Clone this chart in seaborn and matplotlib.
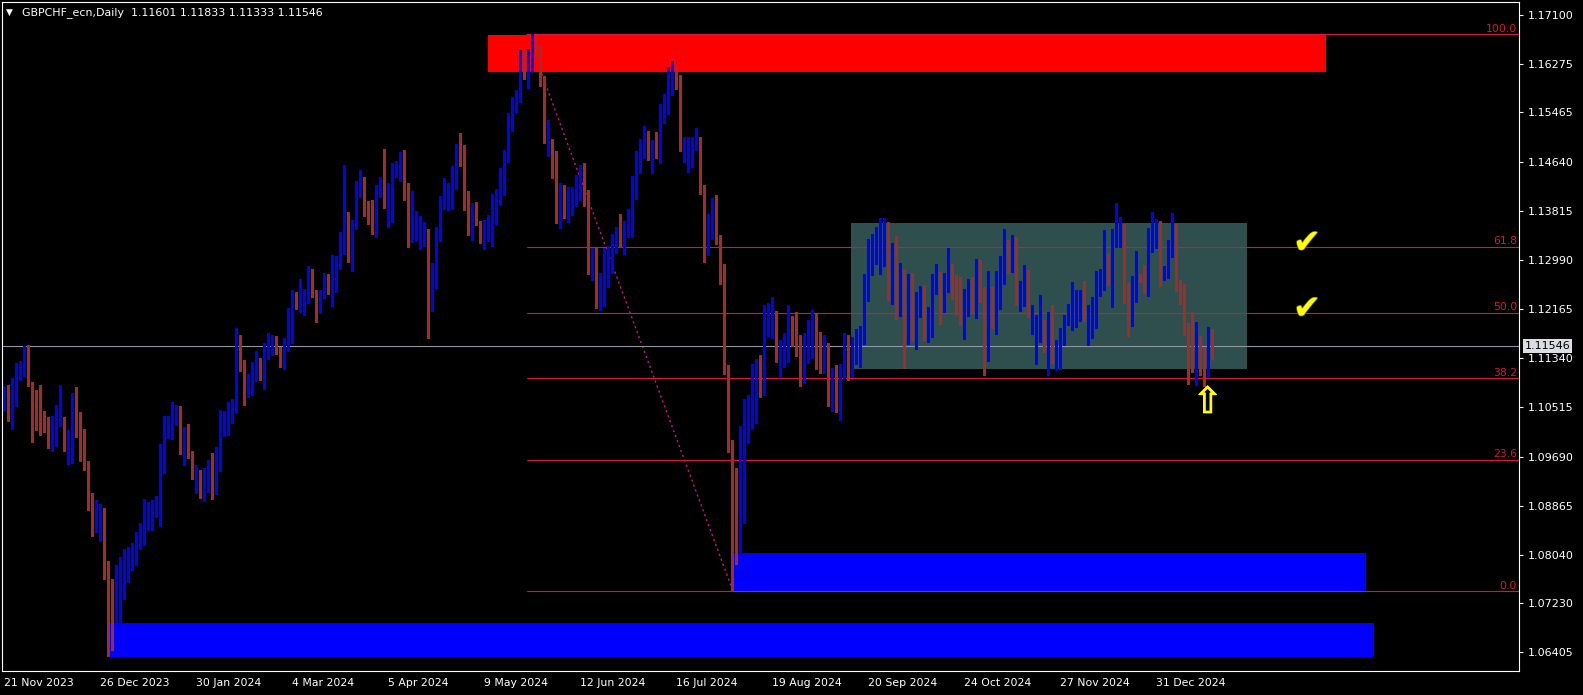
import numpy as np
import pandas as pd
import matplotlib
matplotlib.use("Agg")
import matplotlib.pyplot as plt
import matplotlib.patheffects as pe
from matplotlib.patches import Rectangle
import seaborn as sns

# GBPCHF daily candles (bar 0 = 21 Nov 2023)
opens = [
    1.1064, 1.1078, 1.1029, 1.1073, 1.1103, 1.1113, 1.1146, 1.1091, 1.1047, 1.1032,
    1.1022, 1.1007, 1.0983, 1.1019, 1.1024, 1.1024, 1.0994, 1.0993, 1.1059, 1.1010,
    1.0967, 1.0960, 1.0901, 1.0862, 1.0828, 1.0844, 1.0763, 1.0757, 1.0691, 1.0699,
    1.0733, 1.0780, 1.0780, 1.0806, 1.0831, 1.0832, 1.0855, 1.0848, 1.0884, 1.0853,
    1.0948, 1.1011, 1.0999, 1.1036, 1.1037, 1.0976, 1.1012, 1.0977, 1.0941, 1.0938,
    1.0926, 1.0925, 1.0932, 1.0908, 1.0952, 1.1022, 1.1008, 1.1032, 1.1042, 1.1162,
    1.1128, 1.1083, 1.1079, 1.1098, 1.1121, 1.1109, 1.1134, 1.1140, 1.1155, 1.1143,
    1.1125, 1.1154, 1.1173, 1.1227, 1.1213, 1.1227, 1.1239, 1.1249, 1.1230, 1.1211,
    1.1243, 1.1267, 1.1228, 1.1291, 1.1293, 1.1326, 1.1362, 1.1288, 1.1360, 1.1410,
    1.1406, 1.1373, 1.1368, 1.1341, 1.1413, 1.1422, 1.1380, 1.1373, 1.1446, 1.1442,
    1.1445, 1.1412, 1.1330, 1.1335, 1.1339, 1.1333, 1.1341, 1.1239, 1.1261, 1.1341,
    1.1387, 1.1408, 1.1386, 1.1419, 1.1475, 1.1465, 1.1390, 1.1333, 1.1368, 1.1349,
    1.1332, 1.1332, 1.1324, 1.1398, 1.1396, 1.1435, 1.1469, 1.1524, 1.1549, 1.1573,
    1.1649, 1.1593, 1.1622, 1.1666, 1.1650, 1.1595, 1.1491, 1.1493, 1.1461, 1.1359,
    1.1411, 1.1363, 1.1394, 1.1399, 1.1431, 1.1431, 1.1381, 1.1282, 1.1292, 1.1234,
    1.1236, 1.1280, 1.1278, 1.1313, 1.1336, 1.1309, 1.1348, 1.1352, 1.1409, 1.1446,
    1.1474, 1.1480, 1.1450, 1.1489, 1.1462, 1.1548, 1.1561, 1.1577, 1.1611, 1.1578,
    1.1465, 1.1447, 1.1457, 1.1495, 1.1499, 1.1415, 1.1327, 1.1341, 1.1392, 1.1320,
    1.1275, 1.1098, 1.0968, 1.0875, 1.0800, 1.0917, 1.1030, 1.1016, 1.1026, 1.1119,
    1.1096, 1.1184, 1.1183, 1.1197, 1.1128, 1.1125, 1.1128, 1.1178, 1.1172, 1.1151,
    1.1095, 1.1139, 1.1136, 1.1175, 1.1131, 1.1120, 1.1106, 1.1063, 1.1093, 1.1061,
    1.1102, 1.1153, 1.1103, 1.1143, 1.1120, 1.1158, 1.1260, 1.1298, 1.1293, 1.1282,
    1.1299, 1.1331, 1.1226, 1.1282, 1.1213, 1.1257, 1.1170, 1.1215, 1.1161, 1.1207,
    1.1235, 1.1163, 1.1170, 1.1247, 1.1252, 1.1237, 1.1245, 1.1264, 1.1247, 1.1227,
    1.1175, 1.1208, 1.1254, 1.1203, 1.1274, 1.1219, 1.1136, 1.1247, 1.1176, 1.1244,
    1.1260, 1.1311, 1.1290, 1.1314, 1.1217, 1.1224, 1.1245, 1.1185, 1.1173, 1.1177,
    1.1177, 1.1146, 1.1197, 1.1116, 1.1135, 1.1158, 1.1192, 1.1183, 1.1198, 1.1202,
    1.1232, 1.1187, 1.1170, 1.1185, 1.1257, 1.1259, 1.1292, 1.1222, 1.1322, 1.1326,
    1.1314, 1.1227, 1.1198, 1.1230, 1.1272, 1.1254, 1.1239, 1.1314, 1.1322, 1.1329,
    1.1267, 1.1291, 1.1306, 1.1343, 1.1242, 1.1219, 1.1173, 1.1170, 1.1128, 1.1160,
    1.1126, 1.1105, 1.11601,
]
highs = [
    1.1088, 1.1089, 1.1100, 1.1126, 1.1130, 1.1154, 1.1156, 1.1094, 1.1081, 1.1089,
    1.1046, 1.1035, 1.1037, 1.1056, 1.1089, 1.1035, 1.1014, 1.1076, 1.1085, 1.1043,
    1.1015, 1.0962, 1.0907, 1.0896, 1.0890, 1.0882, 1.0794, 1.0763, 1.0787, 1.0801,
    1.0814, 1.0818, 1.0824, 1.0842, 1.0857, 1.0898, 1.0893, 1.0896, 1.0903, 1.0990,
    1.1037, 1.1037, 1.1061, 1.1055, 1.1053, 1.1019, 1.1024, 1.0979, 1.0955, 1.0947,
    1.0949, 1.0963, 1.0975, 1.0985, 1.1047, 1.1045, 1.1060, 1.1065, 1.1185, 1.1173,
    1.1131, 1.1108, 1.1128, 1.1146, 1.1134, 1.1159, 1.1176, 1.1173, 1.1172, 1.1152,
    1.1168, 1.1219, 1.1249, 1.1245, 1.1267, 1.1250, 1.1289, 1.1284, 1.1249, 1.1249,
    1.1277, 1.1276, 1.1307, 1.1306, 1.1346, 1.1458, 1.1380, 1.1366, 1.1431, 1.1450,
    1.1438, 1.1398, 1.1400, 1.1425, 1.1438, 1.1485, 1.1428, 1.1462, 1.1465, 1.1480,
    1.1484, 1.1428, 1.1414, 1.1381, 1.1373, 1.1362, 1.1351, 1.1294, 1.1355, 1.1406,
    1.1437, 1.1428, 1.1457, 1.1494, 1.1512, 1.1492, 1.1415, 1.1395, 1.1396, 1.1365,
    1.1366, 1.1375, 1.1409, 1.1418, 1.1453, 1.1484, 1.1546, 1.1573, 1.1584, 1.1651,
    1.1653, 1.1653, 1.1678, 1.1673, 1.1660, 1.1607, 1.1533, 1.1502, 1.1481, 1.1428,
    1.1425, 1.1422, 1.1421, 1.1442, 1.1458, 1.1462, 1.1417, 1.1319, 1.1319, 1.1277,
    1.1319, 1.1322, 1.1343, 1.1355, 1.1376, 1.1365, 1.1385, 1.1440, 1.1481, 1.1502,
    1.1524, 1.1515, 1.1500, 1.1513, 1.1561, 1.1578, 1.1623, 1.1632, 1.1626, 1.1610,
    1.1505, 1.1506, 1.1506, 1.1521, 1.1505, 1.1424, 1.1376, 1.1403, 1.1408, 1.1340,
    1.1292, 1.1123, 1.0997, 1.0950, 1.1021, 1.1065, 1.1073, 1.1125, 1.1132, 1.1139,
    1.1223, 1.1227, 1.1237, 1.1213, 1.1164, 1.1176, 1.1224, 1.1205, 1.1212, 1.1173,
    1.1176, 1.1198, 1.1215, 1.1208, 1.1178, 1.1173, 1.1159, 1.1117, 1.1123, 1.1125,
    1.1176, 1.1173, 1.1170, 1.1183, 1.1188, 1.1276, 1.1334, 1.1343, 1.1354, 1.1369,
    1.1369, 1.1363, 1.1328, 1.1339, 1.1294, 1.1282, 1.1276, 1.1277, 1.1245, 1.1255,
    1.1257, 1.1220, 1.1276, 1.1292, 1.1279, 1.1277, 1.1319, 1.1292, 1.1274, 1.1271,
    1.1250, 1.1267, 1.1270, 1.1301, 1.1299, 1.1253, 1.1281, 1.1254, 1.1281, 1.1306,
    1.1351, 1.1333, 1.1341, 1.1338, 1.1264, 1.1291, 1.1282, 1.1224, 1.1207, 1.1240,
    1.1198, 1.1212, 1.1224, 1.1165, 1.1185, 1.1207, 1.1225, 1.1262, 1.1249, 1.1249,
    1.1264, 1.1224, 1.1237, 1.1281, 1.1284, 1.1349, 1.1309, 1.1351, 1.1395, 1.1371,
    1.1359, 1.1260, 1.1272, 1.1314, 1.1276, 1.1291, 1.1353, 1.1380, 1.1368, 1.1364,
    1.1289, 1.1333, 1.1378, 1.1359, 1.1265, 1.1259, 1.1193, 1.1212, 1.1195, 1.1172,
    1.1151, 1.1187, 1.11833,
]
lows = [
    1.1047, 1.1029, 1.1016, 1.1054, 1.1098, 1.1104, 1.1088, 1.0994, 1.1014, 1.1005,
    1.1011, 1.0983, 1.0979, 1.0986, 1.1021, 1.0978, 1.0956, 1.0958, 1.1001, 1.0962,
    1.0947, 1.0880, 1.0835, 1.0843, 1.0828, 1.0763, 1.0634, 1.0645, 1.0678, 1.0691,
    1.0730, 1.0759, 1.0778, 1.0787, 1.0813, 1.0821, 1.0846, 1.0845, 1.0868, 1.0853,
    1.0941, 1.1000, 1.0998, 1.1022, 1.0974, 1.0955, 1.0966, 1.0932, 1.0908, 1.0899,
    1.0894, 1.0909, 1.0897, 1.0906, 1.0944, 1.1004, 1.1005, 1.1026, 1.1042, 1.1113,
    1.1056, 1.1069, 1.1073, 1.1095, 1.1097, 1.1082, 1.1133, 1.1139, 1.1141, 1.1120,
    1.1116, 1.1146, 1.1159, 1.1216, 1.1212, 1.1206, 1.1226, 1.1236, 1.1195, 1.1210,
    1.1235, 1.1242, 1.1221, 1.1245, 1.1284, 1.1309, 1.1295, 1.1281, 1.1351, 1.1405,
    1.1372, 1.1360, 1.1342, 1.1338, 1.1405, 1.1386, 1.1355, 1.1363, 1.1438, 1.1431,
    1.1399, 1.1320, 1.1329, 1.1330, 1.1317, 1.1323, 1.1168, 1.1213, 1.1252, 1.1330,
    1.1385, 1.1382, 1.1385, 1.1418, 1.1457, 1.1382, 1.1341, 1.1332, 1.1357, 1.1327,
    1.1318, 1.1331, 1.1323, 1.1360, 1.1391, 1.1408, 1.1464, 1.1516, 1.1547, 1.1564,
    1.1603, 1.1587, 1.1615, 1.1640, 1.1590, 1.1496, 1.1474, 1.1437, 1.1361, 1.1352,
    1.1369, 1.1362, 1.1374, 1.1390, 1.1400, 1.1389, 1.1275, 1.1265, 1.1218, 1.1215,
    1.1221, 1.1254, 1.1277, 1.1311, 1.1320, 1.1309, 1.1338, 1.1338, 1.1401, 1.1444,
    1.1470, 1.1467, 1.1444, 1.1470, 1.1461, 1.1528, 1.1544, 1.1576, 1.1585, 1.1481,
    1.1463, 1.1446, 1.1455, 1.1483, 1.1409, 1.1295, 1.1308, 1.1334, 1.1325, 1.1258,
    1.1107, 1.0976, 1.0743, 1.0788, 1.0785, 1.0857, 1.0992, 1.1015, 1.1025, 1.1069,
    1.1073, 1.1172, 1.1168, 1.1128, 1.1105, 1.1119, 1.1127, 1.1154, 1.1138, 1.1088,
    1.1093, 1.1126, 1.1134, 1.1116, 1.1110, 1.1109, 1.1053, 1.1045, 1.1044, 1.1031,
    1.1101, 1.1097, 1.1102, 1.1125, 1.1119, 1.1158, 1.1230, 1.1274, 1.1292, 1.1276,
    1.1289, 1.1232, 1.1225, 1.1200, 1.1205, 1.1118, 1.1158, 1.1165, 1.1150, 1.1203,
    1.1165, 1.1161, 1.1170, 1.1242, 1.1192, 1.1212, 1.1245, 1.1234, 1.1207, 1.1190,
    1.1167, 1.1205, 1.1211, 1.1202, 1.1229, 1.1106, 1.1130, 1.1185, 1.1175, 1.1217,
    1.1259, 1.1277, 1.1279, 1.1224, 1.1213, 1.1222, 1.1204, 1.1175, 1.1125, 1.1161,
    1.1145, 1.1106, 1.1126, 1.1115, 1.1116, 1.1156, 1.1190, 1.1182, 1.1187, 1.1197,
    1.1197, 1.1156, 1.1168, 1.1185, 1.1239, 1.1249, 1.1257, 1.1220, 1.1321, 1.1321,
    1.1227, 1.1172, 1.1188, 1.1229, 1.1262, 1.1244, 1.1239, 1.1312, 1.1319, 1.1255,
    1.1265, 1.1269, 1.1304, 1.1247, 1.1225, 1.1173, 1.1091, 1.1111, 1.1089, 1.1106,
    1.1088, 1.1104, 1.11333,
]
closes = [
    1.1080, 1.1041, 1.1079, 1.1102, 1.1116, 1.1146, 1.1093, 1.1046, 1.1040, 1.1023,
    1.1019, 1.0986, 1.1021, 1.1037, 1.1028, 1.0996, 1.0999, 1.1074, 1.1026, 1.0966,
    1.0958, 1.0897, 1.0863, 1.0866, 1.0861, 1.0780, 1.0756, 1.0709, 1.0726, 1.0754,
    1.0782, 1.0809, 1.0810, 1.0831, 1.0841, 1.0863, 1.0871, 1.0888, 1.0888, 1.0957,
    1.1027, 1.1025, 1.1044, 1.1041, 1.0979, 1.1018, 1.0969, 1.0944, 1.0944, 1.0927,
    1.0930, 1.0945, 1.0909, 1.0955, 1.1043, 1.1024, 1.1049, 1.1058, 1.1169, 1.1127,
    1.1084, 1.1101, 1.1113, 1.1131, 1.1113, 1.1143, 1.1165, 1.1162, 1.1143, 1.1125,
    1.1165, 1.1173, 1.1228, 1.1221, 1.1229, 1.1240, 1.1284, 1.1239, 1.1221, 1.1246,
    1.1271, 1.1248, 1.1299, 1.1296, 1.1338, 1.1362, 1.1303, 1.1365, 1.1415, 1.1423,
    1.1379, 1.1366, 1.1346, 1.1419, 1.1423, 1.1393, 1.1398, 1.1457, 1.1453, 1.1446,
    1.1420, 1.1380, 1.1344, 1.1344, 1.1340, 1.1344, 1.1257, 1.1262, 1.1351, 1.1405,
    1.1414, 1.1423, 1.1437, 1.1485, 1.1469, 1.1410, 1.1351, 1.1381, 1.1359, 1.1346,
    1.1344, 1.1351, 1.1405, 1.1412, 1.1443, 1.1480, 1.1544, 1.1567, 1.1576, 1.1643,
    1.1607, 1.1647, 1.1664, 1.1652, 1.1594, 1.1499, 1.1496, 1.1470, 1.1365, 1.1424,
    1.1372, 1.1405, 1.1414, 1.1436, 1.1446, 1.1405, 1.1290, 1.1301, 1.1234, 1.1241,
    1.1281, 1.1302, 1.1312, 1.1349, 1.1324, 1.1360, 1.1361, 1.1418, 1.1465, 1.1484,
    1.1481, 1.1476, 1.1493, 1.1477, 1.1557, 1.1574, 1.1617, 1.1613, 1.1591, 1.1489,
    1.1488, 1.1477, 1.1505, 1.1505, 1.1422, 1.1328, 1.1366, 1.1398, 1.1328, 1.1286,
    1.1119, 1.0982, 1.0865, 1.0803, 1.0935, 1.1050, 1.1038, 1.1045, 1.1124, 1.1094,
    1.1214, 1.1193, 1.1208, 1.1130, 1.1145, 1.1152, 1.1198, 1.1169, 1.1158, 1.1108,
    1.1155, 1.1156, 1.1188, 1.1150, 1.1125, 1.1123, 1.1066, 1.1103, 1.1076, 1.1116,
    1.1170, 1.1139, 1.1163, 1.1148, 1.1180, 1.1260, 1.1320, 1.1311, 1.1309, 1.1329,
    1.1351, 1.1236, 1.1309, 1.1246, 1.1272, 1.1183, 1.1252, 1.1167, 1.1232, 1.1244,
    1.1172, 1.1198, 1.1262, 1.1262, 1.1240, 1.1265, 1.1282, 1.1245, 1.1234, 1.1192,
    1.1234, 1.1234, 1.1213, 1.1282, 1.1232, 1.1136, 1.1239, 1.1188, 1.1254, 1.1274,
    1.1328, 1.1307, 1.1326, 1.1225, 1.1247, 1.1272, 1.1205, 1.1192, 1.1178, 1.1182,
    1.1158, 1.1203, 1.1128, 1.1136, 1.1173, 1.1198, 1.1208, 1.1215, 1.1232, 1.1230,
    1.1203, 1.1190, 1.1202, 1.1259, 1.1267, 1.1304, 1.1259, 1.1334, 1.1344, 1.1329,
    1.1229, 1.1222, 1.1257, 1.1269, 1.1267, 1.1245, 1.1329, 1.1339, 1.1353, 1.1286,
    1.1277, 1.1314, 1.1343, 1.1249, 1.1227, 1.1175, 1.1167, 1.1131, 1.1158, 1.1131,
    1.1123, 1.1160, 1.11546,
]

symbol = "GBPCHF_ecn,Daily"
date_labels = ["21 Nov 2023", "26 Dec 2023", "30 Jan 2024", "4 Mar 2024", "5 Apr 2024",
               "9 May 2024", "12 Jun 2024", "16 Jul 2024", "19 Aug 2024", "20 Sep 2024",
               "24 Oct 2024", "27 Nov 2024", "31 Dec 2024"]
bars_per_label = 24
price_ticks = [1.17100, 1.16275, 1.15465, 1.14640, 1.13815, 1.12990, 1.12165,
               1.11340, 1.10515, 1.09690, 1.08865, 1.08040, 1.07230, 1.06405]

# fibonacci retracement drawn from the May high to the July low
fib_high, fib_low = 1.1678, 1.0743
fib_bars = [130.75, 182.25]
fib_ratios = [0.0, 0.236, 0.382, 0.5, 0.618, 1.0]
fib_names = ["0.0", "23.6", "38.2", "50.0", "61.8", "100.0"]

# zones: (first bar, last bar, bottom price, top price)
zone_bars = [(121.0, 330.5), (182.25, 340.5), (25.75, 342.5), (211.75, 310.75)]
zone_prices = [(1.16143, 1.16764), (1.0743, 1.08063), (1.06327, 1.06902), (1.11162, 1.13612)]
zone_colors = ["#FF0000", "#0000FF", "#0000FF", "#2F4F4F"]

check_bar = 325.75
check_ratios = [0.618, 0.5]
arrow_bar, arrow_price = 300.9, 1.1059

W, H = 1583, 695
BULL, BEAR = "#0000FF", "#A52A2A"
FIB = "#DC143C"

sns.set_theme(style="dark", rc={
    "axes.facecolor": "black", "figure.facecolor": "black",
    "axes.edgecolor": "white", "axes.grid": False,
    "text.color": "white", "xtick.color": "white", "ytick.color": "white",
})
plt.rcParams["font.family"] = ["DejaVu Sans"]

df = pd.DataFrame({"open": opens, "high": highs, "low": lows, "close": closes})
df["bar"] = np.arange(len(df))
df["bull"] = df["close"] >= df["open"]
df["color"] = np.where(df["bull"], BULL, BEAR)
df["body_lo"] = df[["open", "close"]].min(axis=1)
df["body_h"] = np.maximum((df["close"] - df["open"]).abs(), 0.00012)

fig = plt.figure(figsize=(W / 100, H / 100), dpi=100)
ax = fig.add_axes([2 / W, 24 / H, 1517 / W, 669 / H])
ax.set_xlim(-0.5, 378.75)
ax.set_ylim(1.06091, 1.17318)

# zones
for (b0, b1), (p0, p1), c in zip(zone_bars, zone_prices, zone_colors):
    ax.add_patch(Rectangle((b0, p0), b1 - b0, p1 - p0, facecolor=c, edgecolor="none", zorder=1.5))

# fib trend line and levels
sns.lineplot(x=fib_bars, y=[fib_high, fib_low], ax=ax, color="#C71585", lw=1.0,
             linestyle=(0, (1.6, 2.2)), zorder=1)
xmax = ax.get_xlim()[1]
for r, name in zip(fib_ratios, fib_names):
    lvl = fib_low + r * (fib_high - fib_low)
    ax.plot([fib_bars[0], xmax], [lvl, lvl], color=FIB, lw=0.8, zorder=2)
    ax.annotate(name, xy=(1, lvl), xycoords=ax.get_yaxis_transform(), xytext=(-2, 2.5),
                textcoords="offset pixels", ha="right", va="baseline", color=FIB, fontsize=7.8)

# bid line
bid = closes[-1]
ax.axhline(bid, color="#8C96A0", lw=0.8, zorder=2)

# candles
ax.vlines(df["bar"], df["low"], df["high"], colors=df["color"], lw=0.75, zorder=3, antialiased=False)
ax.bar(df["bar"], df["body_h"], bottom=df["body_lo"], width=0.7, color=df["color"],
       linewidth=0, zorder=4, antialiased=False)

# marks
for r in check_ratios:
    lvl = fib_low + r * (fib_high - fib_low)
    ax.text(check_bar, lvl + 0.0006, "\u2714", color="#FFFF00", fontsize=24, ha="center", va="center",
            zorder=5, path_effects=[pe.withStroke(linewidth=1.0, foreground="#6A6A00")])
ax.text(arrow_bar, arrow_price, "\u21e7", color="#FFFF00", fontsize=26, ha="center", va="center",
        zorder=5, path_effects=[pe.withStroke(linewidth=0.7, foreground="#FFFF00")])

# axes styling
for s in ax.spines.values():
    s.set_color("white")
    s.set_linewidth(0.8)
ax.yaxis.tick_right()
ax.set_yticks(price_ticks)
ax.set_yticklabels([f"{p:.5f}" for p in price_ticks])
ax.tick_params(axis="y", length=3, width=0.8, pad=3, labelsize=8, colors="white")
ax.set_xticks(np.arange(len(date_labels)) * bars_per_label)
ax.set_xticklabels(date_labels)
ax.tick_params(axis="x", length=3, width=0.8, pad=2, labelsize=7.8, colors="white")
for lab in ax.get_xticklabels():
    lab.set_ha("left")

ax.annotate(f"{bid:.5f}", xy=(1, bid), xycoords=ax.get_yaxis_transform(), xytext=(6, 0),
            textcoords="offset pixels", ha="left", va="center", color="black", fontsize=8,
            bbox=dict(boxstyle="square,pad=0.15", fc="#DADDE2", ec="none"), annotation_clip=False, zorder=6)

# header
fig.text(6 / W, 1 - 12.5 / H, "\u25bc", fontsize=6.5, color="white", va="center", ha="left")
fig.text(22 / W, 1 - 12.5 / H,
         f"{symbol}  {opens[-1]:.5f} {highs[-1]:.5f} {lows[-1]:.5f} {closes[-1]:.5f}",
         fontsize=7.9, color="white", va="center", ha="left")

fig.savefig("out.png", dpi=100, facecolor="black")
